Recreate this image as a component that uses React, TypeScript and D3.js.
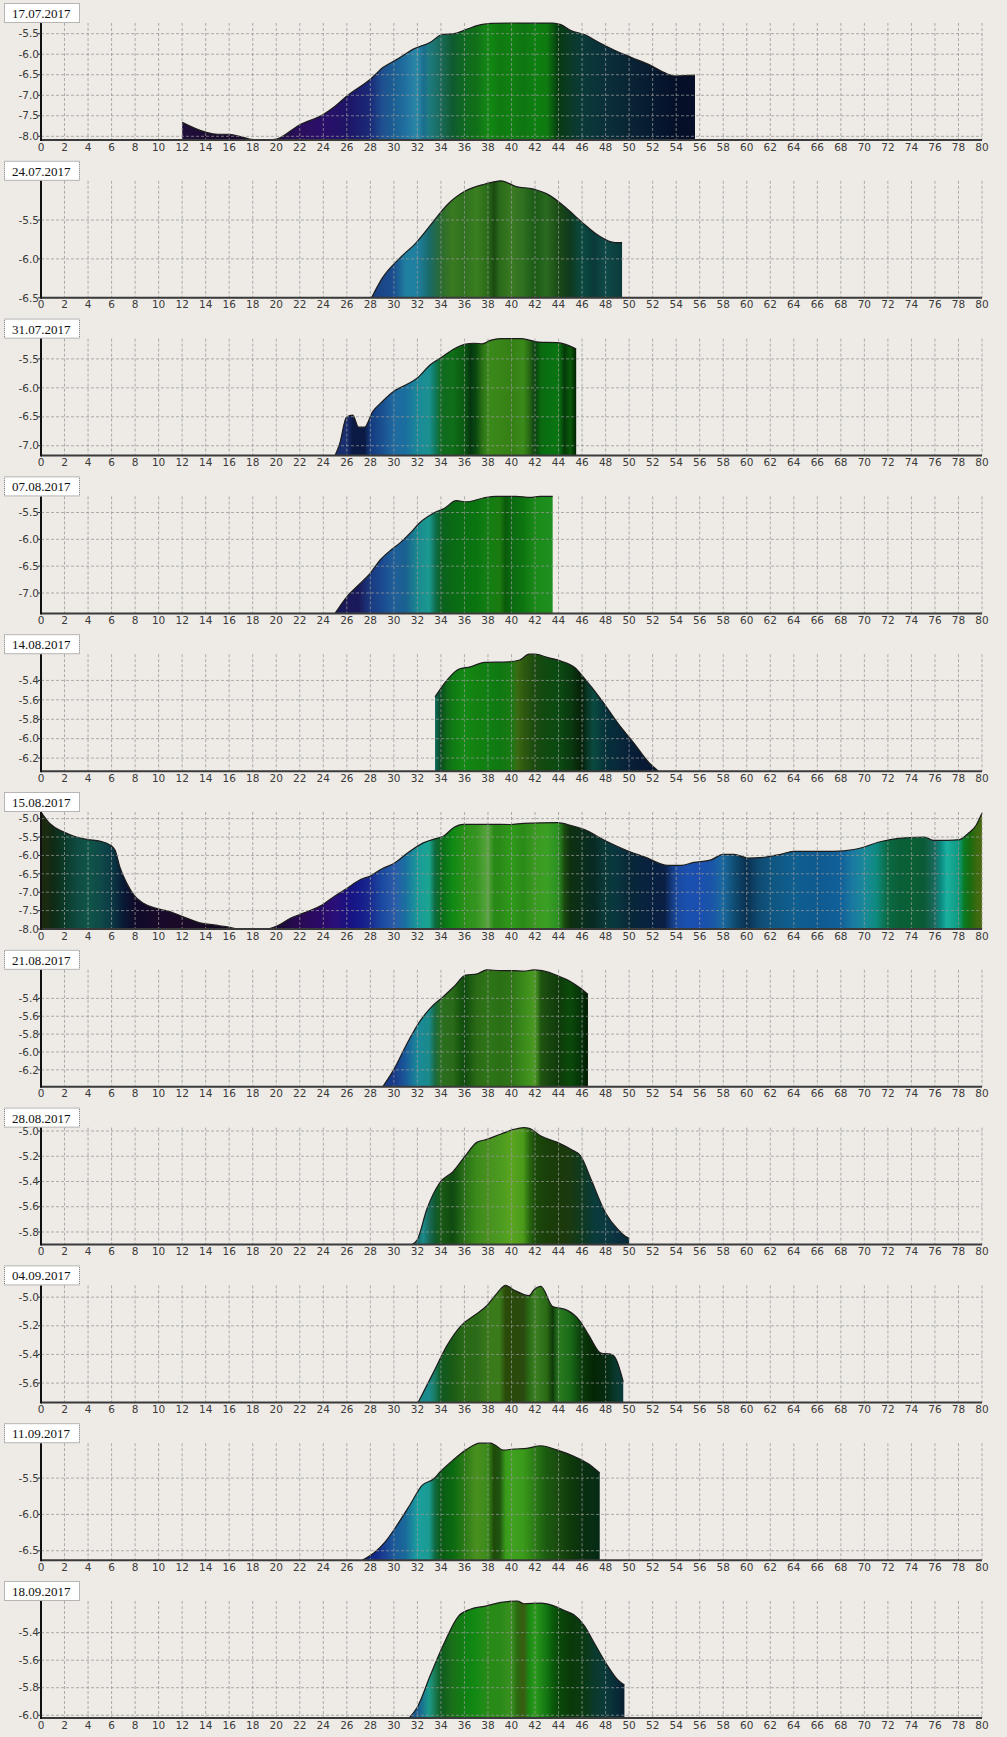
import React from "react";
import * as d3 from "d3";

// ---------- data ----------
const dates = [
  "17.07.2017", "24.07.2017", "31.07.2017", "07.08.2017", "14.08.2017", "15.08.2017",
  "21.08.2017", "28.08.2017", "04.09.2017", "11.09.2017", "18.09.2017",
];

const xTickLabels = [
  0, 2, 4, 6, 8, 10, 12, 14, 16, 18, 20, 22, 24, 26, 28, 30, 32, 34, 36, 38, 40,
  42, 44, 46, 48, 50, 52, 54, 56, 58, 60, 62, 64, 66, 68, 70, 72, 74, 76, 78, 80,
];

const s1x = [12, 14, 15, 16, 17, 18, 19.5, 20, 22, 24, 25, 26, 28, 29.1, 30.3, 31.7, 33.1, 34.1, 35.1, 36.3, 37.4, 38.3, 40, 42, 43.5, 44.2, 45.1, 46.2, 47.4, 48.8, 50.2, 51.9, 53, 53.9, 55.6];
const s1v = [-7.66, -7.9, -7.95, -7.95, -8.01, -8.08, -8.09, -8.07, -7.72, -7.47, -7.27, -7.02, -6.61, -6.32, -6.12, -5.87, -5.71, -5.52, -5.5, -5.38, -5.28, -5.25, -5.24, -5.245, -5.24, -5.28, -5.43, -5.52, -5.71, -5.91, -6.08, -6.28, -6.45, -6.53, -6.51];
const s2x = [28.1, 29, 30.5, 31.9, 33.3, 34.5, 36.1, 37.7, 39.1, 40.4, 41.8, 43.2, 44.6, 46, 47.4, 48.8, 49.4];
const s2v = [-6.5, -6.25, -5.99, -5.79, -5.53, -5.31, -5.125, -5.04, -4.996, -5.07, -5.1, -5.18, -5.34, -5.53, -5.7, -5.79, -5.79];
const s3x = [25, 25.4, 25.96, 26.5, 27, 27.5, 28.2, 29, 30, 31.2, 32, 33.1, 34, 35.1, 36, 36.8, 37.5, 38.2, 39.1, 40.8, 41.6, 42.3, 43.9, 44.6, 45.5];
const s3v = [-7.17, -6.96, -6.51, -6.47, -6.68, -6.68, -6.41, -6.24, -6.06, -5.93, -5.83, -5.6, -5.48, -5.33, -5.25, -5.23, -5.24, -5.18, -5.15, -5.15, -5.18, -5.21, -5.22, -5.25, -5.33];
const s4x = [25, 26, 27, 28, 28.85, 29.8, 30.5, 31.4, 32.2, 33.4, 34.3, 35.3, 36.2, 37.6, 38.7, 40.4, 41.6, 42.4, 43.5];
const s4v = [-7.38, -7.07, -6.85, -6.63, -6.38, -6.19, -6.07, -5.88, -5.69, -5.51, -5.42, -5.28, -5.3, -5.23, -5.2, -5.2, -5.22, -5.2, -5.2];
const s5x = [33.5, 34.5, 35.5, 36.5, 37.7, 39.7, 40.7, 41.5, 42, 43.1, 44.2, 45.4, 46.2, 47.7, 49.1, 50.5, 51.6, 52.5];
const s5v = [-5.57, -5.4, -5.285, -5.26, -5.215, -5.21, -5.19, -5.13, -5.13, -5.165, -5.2, -5.27, -5.38, -5.61, -5.85, -6.06, -6.235, -6.335];
const s6x = [0, 0.77, 1.9, 3, 4, 5, 5.9, 6.3, 6.7, 7.3, 7.9, 8.7, 9.8, 11, 12.1, 13.5, 14.7, 15.8, 16.9, 19.2, 20.05, 21.2, 22.3, 23.9, 24.9, 26, 27.2, 28, 29, 30, 31.1, 32.5, 33.7, 34.2, 35.1, 35.9, 37.9, 39.9, 41, 43.9, 45, 46.2, 47.9, 49.9, 51.3, 53.3, 54.4, 55.5, 56.9, 58, 58.9, 60.1, 61.5, 62.9, 64, 67.4, 69.1, 70, 71.1, 72.2, 73.7, 75.1, 75.9, 77.1, 78.1, 78.8, 79.5, 80];
const s6v = [-4.82, -5.14, -5.36, -5.5, -5.57, -5.61, -5.72, -5.86, -6.31, -6.76, -7.08, -7.3, -7.44, -7.53, -7.67, -7.83, -7.89, -7.94, -8.0, -8.0, -7.92, -7.71, -7.57, -7.35, -7.12, -6.9, -6.65, -6.56, -6.36, -6.22, -5.95, -5.66, -5.53, -5.48, -5.24, -5.155, -5.155, -5.16, -5.13, -5.11, -5.18, -5.3, -5.59, -5.88, -6.04, -6.27, -6.27, -6.19, -6.13, -5.97, -5.97, -6.07, -6.05, -5.97, -5.89, -5.89, -5.84, -5.77, -5.65, -5.57, -5.515, -5.5, -5.59, -5.59, -5.57, -5.41, -5.18, -4.85];
const s7x = [29.05, 29.98, 31.1, 32.25, 33.1, 34.2, 35.1, 36.1, 37.1, 37.9, 39.1, 40.2, 41.05, 41.9, 42.6, 44, 45, 45.9, 46.5];
const s7v = [-6.39, -6.2, -5.91, -5.65, -5.51, -5.38, -5.27, -5.14, -5.125, -5.08, -5.09, -5.09, -5.095, -5.08, -5.09, -5.15, -5.21, -5.29, -5.355];
const s8x = [31.55, 32, 32.8, 33.9, 35.05, 36.05, 37.05, 37.9, 39.05, 40.2, 41.05, 41.5, 42.5, 43.9, 45.05, 45.9, 46.75, 48, 49.05, 49.7, 50];
const s8v = [-5.9, -5.86, -5.62, -5.41, -5.32, -5.2, -5.09, -5.066, -5.026, -4.987, -4.973, -4.978, -5.04, -5.09, -5.145, -5.2, -5.38, -5.65, -5.78, -5.835, -5.85];
const s9x = [32.06, 33.4, 34.5, 35.7, 36.8, 37.9, 38.8, 39.5, 40.2, 41.5, 41.9, 42.5, 43.5, 44, 44.8, 45.8, 46.6, 47.6, 48.5, 48.9, 49.5];
const s9v = [-5.735, -5.52, -5.34, -5.2, -5.13, -5.06, -4.97, -4.918, -4.95, -4.99, -4.95, -4.925, -5.066, -5.075, -5.094, -5.165, -5.27, -5.39, -5.4, -5.435, -5.59];
const s10x = [27.3, 28.3, 29.3, 30.3, 31.4, 32.4, 33.4, 33.9, 35.05, 36.2, 37.3, 38.2, 38.6, 39.3, 40.2, 41.3, 42.5, 43.9, 45.3, 46.5, 47.5];
const s10v = [-6.63, -6.53, -6.37, -6.14, -5.86, -5.6, -5.51, -5.42, -5.25, -5.105, -5.02, -5.02, -5.045, -5.115, -5.1, -5.09, -5.055, -5.115, -5.2, -5.3, -5.43];
const s11x = [31.3, 32, 33.1, 34.2, 35.5, 36.5, 37.9, 39.1, 40.5, 41.05, 42.5, 43.6, 44.5, 45.3, 46.2, 47, 48.2, 49, 49.6];
const s11v = [-6.02, -5.94, -5.71, -5.49, -5.28, -5.23, -5.205, -5.18, -5.17, -5.19, -5.185, -5.205, -5.24, -5.27, -5.35, -5.47, -5.645, -5.74, -5.78];

// colour stripes (position on the x axis, colour)
const c1x = [12, 16, 20, 22, 24, 26, 28, 29, 30, 31, 32, 32.5, 33, 34, 35, 36, 37, 38, 39, 40, 41, 42, 43, 44, 45, 46, 48, 50, 52, 54, 55.6];
const c1c = ["#1f0f3a", "#1a0a2e", "#200c40", "#2a0f5e", "#2a0f6a", "#1e1466", "#1a2a78", "#1f4f8f", "#1a5f95", "#2070a0", "#2a8aa8", "#1a6e90", "#1d7a80", "#1a6a5a", "#0f5a30", "#0f6a20", "#106f18", "#138a14", "#0f7a10", "#117f12", "#0f7512", "#0d8010", "#0e7a10", "#063a10", "#0a3a28", "#0a3a38", "#0a2f3a", "#0a2535", "#061a30", "#050f28", "#050f28"];
const c2x = [28, 30, 31, 32, 33, 34, 35, 36, 37, 38, 38.5, 39, 40, 41, 42, 43, 44, 45, 46, 47, 48, 49.4];
const c2c = ["#1a3f80", "#1a4f90", "#1f7fa0", "#1f80a0", "#1a6a6a", "#2a6a30", "#3a7a20", "#2f7020", "#3a7f20", "#2a6a18", "#1a4a10", "#2a6a1a", "#3a7a22", "#2f6f20", "#1a5a15", "#2a6a20", "#1a4a15", "#0f3a20", "#0a4a40", "#0a3a3a", "#0f4a48", "#0a3a3a"];
const c3x = [25, 26, 26.5, 27.5, 28, 29, 30, 31, 32, 33, 33.5, 34, 35, 36, 36.5, 37, 37.5, 38, 39, 40, 41, 41.5, 42, 42.5, 43, 44, 44.5, 45, 45.5];
const c3c = ["#1a2f70", "#1a2f70", "#0a1a45", "#0a1a45", "#143a80", "#1a5090", "#1f6aa0", "#1a6f9f", "#1a8a9a", "#1a9090", "#107a60", "#0f6a20", "#0f6e18", "#0a5a10", "#053510", "#0a4a10", "#2a7015", "#3a8a1a", "#3a8518", "#358015", "#3a8a1a", "#2a6a15", "#0a4010", "#0a6a10", "#086f10", "#0a7512", "#053a08", "#0a5a0a", "#021f02"];
const c4x = [25, 27, 28, 29, 30, 31, 32, 33, 33.5, 34, 35, 36, 37, 38, 39, 39.5, 40, 41, 42, 43.5];
const c4c = ["#1a1a5a", "#1a1a5a", "#1a3a80", "#1a4a90", "#1f5f9a", "#1a6090", "#1a8a90", "#1a9a90", "#0f7050", "#0a6020", "#0a6a15", "#0a7012", "#0a7510", "#137f12", "#1a7a10", "#0a5a0a", "#0a6a10", "#0d7510", "#1a8a18", "#1f9020"];
const c5x = [33.5, 34, 34.5, 35, 36, 37, 38, 39, 40, 40.5, 41, 42, 43, 44, 45, 46, 46.5, 47, 48, 49, 50, 51, 52.5];
const c5c = ["#106a5a", "#0a4a20", "#0f6a18", "#107a14", "#138a14", "#138010", "#107f12", "#0f7812", "#1a7a14", "#3a6a12", "#2f5a10", "#1a4a10", "#0f4a10", "#0a4a12", "#0a3a10", "#051f08", "#0a3a2a", "#0a4a40", "#05303a", "#082a3a", "#082038", "#081a35", "#061830"];
const c6x = [0, 0.5, 1, 2, 3, 4, 5, 6, 7, 8, 10, 12, 16, 18, 20, 22, 24, 25, 26, 27, 28, 29, 30, 31, 32, 33, 33.5, 34, 35, 36, 37, 38, 38.5, 39, 40, 41, 42, 43, 44, 44.5, 45, 46, 47, 48, 49, 50, 52, 53, 54, 55, 56, 57, 58, 59, 60, 61, 62, 63, 64, 66, 68, 69, 70, 71, 72, 73, 74, 75, 76, 76.5, 77, 78, 78.5, 79, 79.5, 80];
const c6c = ["#1a2a10", "#1a2a10", "#0f2a15", "#0a3a28", "#0f4a40", "#0f5548", "#0f4a48", "#0a3a45", "#081a35", "#0f0a28", "#1a0a2a", "#1a0a28", "#100a20", "#0a0a18", "#1a0a35", "#2a0a55", "#2a0a6a", "#2a0f7a", "#1a1080", "#151a8a", "#1a2a90", "#1a4aa0", "#2a5aaa", "#1a70a0", "#1a9a9a", "#1aa590", "#0f6a40", "#0a6a1a", "#0f8a14", "#2a9018", "#359520", "#5aa540", "#2a8a18", "#2a8a18", "#2f9a1a", "#2a8a18", "#3a9a20", "#3aa025", "#2a8f20", "#1a4a10", "#0f3010", "#0a2f1a", "#082a25", "#0a3a38", "#0a3540", "#082838", "#082040", "#0a1f45", "#1a4aa0", "#1a50b0", "#1a4fb0", "#1a55a8", "#1a6aa0", "#0f4a70", "#0a3050", "#0f4a70", "#0f5580", "#0f5a88", "#0f5f90", "#0f5a90", "#10609a", "#1a7aa0", "#1a8a9a", "#0f8a80", "#0a6a40", "#0a5f38", "#0a6035", "#0a5a35", "#1a6a60", "#0a8a80", "#1ab0a0", "#0f9a80", "#0a7a20", "#1a6a10", "#3a6a10", "#4a6a10"];
const c7x = [29, 30, 31, 32, 33, 33.5, 34, 35, 35.5, 36, 37, 38, 39, 40, 41, 42, 42.5, 43, 44, 45, 46, 46.5];
const c7c = ["#1a3a8a", "#1a3a8a", "#1a5a9a", "#1a8a9a", "#1a8a8a", "#1a6a40", "#2a7020", "#2a6a18", "#1a5a10", "#0f4a0f", "#2a6a15", "#2f7518", "#2a6f15", "#2f7518", "#3a8a1a", "#4a9a22", "#1f5510", "#1a4a10", "#0f3a0a", "#0a4a0a", "#053008", "#021a02"];
const c8x = [31.5, 32, 32.5, 33, 33.5, 34, 35, 36, 37, 38, 39, 40, 41, 41.5, 42, 43, 44, 45, 46, 47, 48, 49, 50];
const c8c = ["#1a6a6a", "#1a6a6a", "#1a8a8a", "#1a6a5a", "#0f5a30", "#1a5a15", "#0f4a10", "#2a7018", "#3a8a1a", "#4a9020", "#4a9a20", "#5aa520", "#4a9a1a", "#2a6a10", "#1a4a0a", "#1a3f0a", "#1a3a0a", "#1a3a10", "#0f3a20", "#0a3a3a", "#0a3a40", "#0a3040", "#082a38"];
const c9x = [32, 33, 33.5, 34, 35, 36, 37, 38, 39, 39.5, 40, 41, 41.5, 42, 43, 43.5, 44, 45, 46, 47, 48, 49, 49.5];
const c9c = ["#1a8a8a", "#1a8a8a", "#1a7a60", "#0f5a20", "#1a5a15", "#2a6a15", "#2a6a18", "#3a7a1a", "#3a7a1a", "#2a4a0a", "#2a4a0a", "#2a4a10", "#2a6a15", "#3a8020", "#2a6a15", "#0f3a0a", "#2a7a20", "#1a6a18", "#0a3a0a", "#052505", "#052a10", "#0a3a30", "#0a3a3a"];
const c10x = [27.3, 28.5, 29, 30, 31, 32, 33, 33.5, 34, 35, 36, 37, 38, 38.5, 39, 39.5, 40, 41, 42, 43, 44, 45, 46, 47.5];
const c10c = ["#0f2a8a", "#0f2a8a", "#1a3a90", "#1a5a9a", "#1a6a9a", "#1aa0a0", "#1a9a90", "#0f6a40", "#0a5a15", "#0a6a10", "#2a7a15", "#4a9020", "#3a8a1a", "#1f4a0a", "#1f5510", "#3a9a1a", "#40a020", "#3a9a1a", "#2a7a15", "#1a5a10", "#1a4a10", "#0f3a0a", "#0a3010", "#052a15"];
const c11x = [31.3, 32, 32.5, 33, 33.5, 34, 35, 36, 37, 38, 39, 40, 40.5, 41, 41.5, 42, 43, 43.5, 44, 45, 46, 47, 48, 49, 49.6];
const c11c = ["#1a5a90", "#1a5a90", "#1a7a90", "#1a9a8a", "#1a7a50", "#0f5a20", "#1a7018", "#0f8012", "#138a14", "#2a8a18", "#2a8a18", "#3a9020", "#2a6a10", "#3a5a10", "#1a8a15", "#2a9a1a", "#137512", "#0a5a0a", "#0a4a0a", "#0a3a0a", "#0a3a10", "#0a3a2a", "#0a3a3a", "#082a38", "#081f30"];

const yTicks = [
  [-8, -7.5, -7, -6.5, -6, -5.5],
  [-6.5, -6, -5.5],
  [-7, -6.5, -6, -5.5],
  [-7, -6.5, -6, -5.5],
  [-6.2, -6, -5.8, -5.6, -5.4],
  [-8, -7.5, -7, -6.5, -6, -5.5, -5],
  [-6.2, -6, -5.8, -5.6, -5.4],
  [-5.8, -5.6, -5.4, -5.2, -5],
  [-5.6, -5.4, -5.2, -5],
  [-6.5, -6, -5.5],
  [-6, -5.8, -5.6, -5.4],
];

const seriesX = [s1x, s2x, s3x, s4x, s5x, s6x, s7x, s8x, s9x, s10x, s11x];
const seriesV = [s1v, s2v, s3v, s4v, s5v, s6v, s7v, s8v, s9v, s10v, s11v];
const stripeX = [c1x, c2x, c3x, c4x, c5x, c6x, c7x, c8x, c9x, c10x, c11x];
const stripeC = [c1c, c2c, c3c, c4c, c5c, c6c, c7c, c8c, c9c, c10c, c11c];

// ---------- layout ----------
const W = 1007;
const H = 1737;
const PITCH = 157.8;
const AXIS0 = 140; // baseline of first panel
const PLOT_H = 117;
const X0 = 41;
const X1 = 982;
const BG = "#eeebe6";

const x = d3.scaleLinear().domain([0, 80]).range([X0, X1]);

function Panel({ i }: { i: number }) {
  const bottom = AXIS0 + i * PITCH;
  const top = bottom - PLOT_H;
  const xs = seriesX[i];
  const vs = seriesV[i];
  const pts: [number, number][] = xs.map((xv, k) => [xv, vs[k]]);
  const ext = d3.extent(vs) as [number, number];
  const y = d3.scaleLinear().domain(ext).range([bottom, top]);
  const area = d3
    .area<[number, number]>()
    .x((d) => x(d[0]))
    .y0(bottom)
    .y1((d) => y(d[1]))
    .curve(d3.curveMonotoneX);
  const line = d3
    .line<[number, number]>()
    .x((d) => x(d[0]))
    .y((d) => y(d[1]))
    .curve(d3.curveMonotoneX);
  const gid = `grad${i}`;
  const grid = "rgba(150,150,150,0.75)";
  const title = dates[i];
  const panelTop = bottom - 137;
  return (
    <g>
      <defs>
        <linearGradient id={gid} gradientUnits="userSpaceOnUse" x1={x(0)} x2={x(80)} y1={0} y2={0}>
          {stripeX[i].map((sx, k) => (
            <stop key={k} offset={sx / 80} stopColor={stripeC[i][k]} />
          ))}
        </linearGradient>
      </defs>
      <path d={area(pts) || ""} fill={`url(#${gid})`} />
      <path d={line(pts) || ""} fill="none" stroke="#1c1c1c" strokeWidth={1.2} />
      {/* grid */}
      {xTickLabels.filter((t) => t > 0).map((t) => (
        <line key={"vx" + t} x1={x(t)} x2={x(t)} y1={top} y2={bottom} stroke={grid} strokeDasharray="3,2" strokeWidth={1} />
      ))}
      {yTicks[i].map((t) => (
        <line key={"hy" + t} x1={X0} x2={X1} y1={y(t)} y2={y(t)} stroke={grid} strokeDasharray="3,2" strokeWidth={1} />
      ))}
      {/* axes */}
      <line x1={X0} x2={X1} y1={bottom} y2={bottom} stroke="#3a3a3a" strokeWidth={2} />
      <line x1={X0} x2={X0} y1={top} y2={bottom + 1} stroke="#111" strokeWidth={2} />
      {yTicks[i].map((t) => (
        <g key={"yt" + t}>
          <line x1={X0 - 3} x2={X0} y1={y(t)} y2={y(t)} stroke="#333" strokeWidth={1} />
          <text x={X0 - 2} y={y(t) + 3.7} textAnchor="end" fontFamily="DejaVu Sans" fontSize={10.5} fill="#3a3a3a">
            {t.toFixed(1)}
          </text>
        </g>
      ))}
      {xTickLabels.map((t) => (
        <text key={"xt" + t} x={x(t)} y={bottom + 10.5} textAnchor="middle" fontFamily="DejaVu Sans" fontSize={10.5} fill="#3a3a3a">
          {t}
        </text>
      ))}
      {/* title */}
      <rect x={4.5} y={panelTop + 0.5} width={75} height={19} fill="#ffffff" stroke="#777" strokeDasharray="1,1" strokeWidth={1} />
      <text x={12} y={panelTop + 15} fontFamily="Liberation Serif" fontSize={13} fill="#111">
        {title}
      </text>
    </g>
  );
}

export default function App() {
  return (
    <div style={{ position: "absolute", left: 0, top: 0 }}>
      <svg width={W} height={H} viewBox={`0 0 ${W} ${H}`} style={{ display: "block" }}>
        <rect x={0} y={0} width={W} height={H} fill={BG} />
        {dates.map((_, i) => (
          <Panel key={i} i={i} />
        ))}
      </svg>
    </div>
  );
}
